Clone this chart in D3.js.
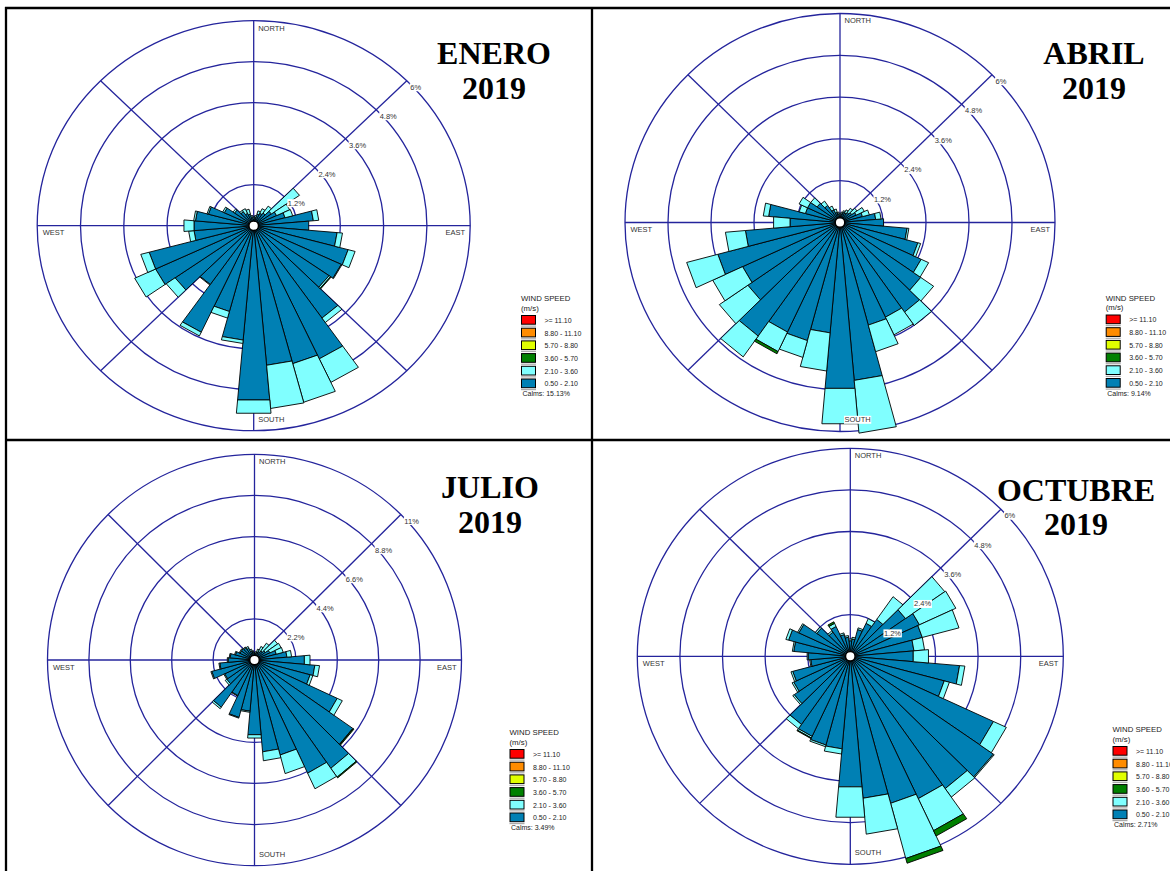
<!DOCTYPE html>
<html><head><meta charset="utf-8">
<script src="https://cdn.jsdelivr.net/npm/d3@7"></script>
<style>body{margin:0;background:#fff}svg{display:block}</style>
</head><body>
<svg id="c" width="1170" height="871"></svg>
<script>
// ---------------- DATA ----------------
const directions = [0,10,20,30,40,50,60,70,80,90,100,110,120,130,140,150,160,170,180,190,200,210,220,230,240,250,260,270,280,290,300,310,320,330,340,350];
const compassLabels = ["NORTH","EAST","SOUTH","WEST"];
const ticksA = [1.2,2.4,3.6,4.8,6];
const tickLabelsA = ["1.2%","2.4%","3.6%","4.8%","6%"];
const ticksB = [2.2,4.4,6.6,8.8,11];
const tickLabelsB = ["2.2%","4.4%","6.6%","8.8%","11%"];
const legendLabels = [">= 11.10","8.80 - 11.10","5.70 - 8.80","3.60 - 5.70","2.10 - 3.60","0.50 - 2.10"];
const monthTitles = ["ENERO","ABRIL","JULIO","OCTUBRE"];
const yearTitles = ["2019","2019","2019","2019"];
const calmsLabels = ["Calms: 15.13%","Calms: 9.14%","Calms: 3.49%","Calms: 2.71%"];

// ENERO 2019 (% frequency per 10° sector)
const eneroLow  = [0.2,0.25,0.35,0.4,0.45,0.6,0.7,0.9,1.66,1.53,2.32,2.71,2.68,2.55,3.3,4.3,4.18,4.1,5.12,3.36,2.6,3.44,2.1,2.66,3.0,3.0,1.66,1.66,1.62,1.3,0.9,0.65,0.5,0.4,0.35,0.25];
const eneroMid  = [0.05,0.05,0.1,0.15,0.25,0.95,0.4,0.22,0.15,0,0.15,0.2,0.02,0.05,0.16,0.76,1.17,1.27,0.39,0.1,0.2,0.12,0.02,0.3,0.64,0.24,0.15,0.28,0.05,0.04,0.05,0.05,0.05,0.15,0.15,0.05];
const eneroHigh = [0,0,0,0,0,0,0,0,0,0,0,0,0,0.02,0,0,0,0,0,0,0,0,0,0,0,0,0,0,0,0,0,0,0,0,0,0];
// ABRIL 2019
const abrilLow  = [0.2,0.25,0.3,0.3,0.35,0.4,0.5,0.65,1.0,1.22,1.88,2.25,2.5,2.75,3.14,3.0,3.05,4.55,4.78,3.18,3.51,3.47,3.98,3.14,3.0,3.53,2.65,1.4,2.0,1.0,1.0,0.78,0.6,0.4,0.3,0.25];
const abrilMid  = [0.05,0.05,0.05,0.1,0.15,0.18,0.25,0.2,0.15,0,0.05,0.08,0.23,0.44,0.47,0.56,0.79,1.52,1.02,1.1,0.5,0.62,0.73,0.97,0.92,0.9,0.56,0.46,0.15,0.18,0.26,0.22,0.15,0.12,0.1,0.05];
const abrilHigh = [0,0,0,0,0,0,0,0,0,0,0,0,0,0,0,0,0,0,0,0,0,0.07,0,0,0,0,0,0,0,0,0,0,0,0,0,0];
// JULIO 2019
const julioLow  = [0.35,0.35,0.45,0.5,0.6,0.7,0.9,1.2,1.73,2.66,3.22,3.06,4.85,6.38,7.07,6.68,5.26,4.93,4.01,2.75,3.18,2.1,3.08,1.8,1.75,2.35,1.85,1.4,1.3,1.05,0.85,0.85,0.8,0.7,0.5,0.45];
const julioMid  = [0.05,0.1,0.15,0.3,0.5,0.8,0.66,0.38,0.25,0.3,0.25,0.15,0.3,0.02,0.58,0.92,1.03,0.48,0.18,0.06,0.04,0.03,0.1,0.1,0.05,0.05,0.05,0.05,0.05,0.05,0.05,0.05,0.05,0.1,0.1,0.05];
const julioHigh = [0,0,0,0,0,0,0,0,0,0,0,0,0,0.05,0.05,0,0,0,0,0,0,0,0,0,0,0,0,0,0,0,0,0,0,0,0,0];
// OCTUBRE 2019
const octubreLow  = [0.45,0.5,0.8,1.05,1.3,1.9,2.15,2.1,1.8,1.78,3.09,2.74,4.45,4.92,4.66,4.53,4.39,4.11,3.78,2.68,2.65,2.55,2.4,1.93,1.76,1.68,1.12,1.19,1.6,1.8,1.6,1.15,0.85,0.95,0.65,0.55];
const octubreMid  = [0.05,0.05,0.05,0.15,0.8,1.35,1.13,1.07,0.3,0.43,0.15,0.15,0.4,0.03,0.3,1.02,1.65,1.04,0.88,0.15,0.05,0.05,0.15,0.05,0.05,0.05,0.03,0.03,0.04,0.08,0.04,0.05,0.05,0.1,0.05,0.05];
const octubreHigh = [0,0,0,0,0,0,0,0,0,0,0,0,0,0,0,0.17,0.14,0,0,0,0,0.02,0,0,0,0,0,0,0,0,0,0,0,0.05,0,0];

// ---------------- STYLE ----------------
const legendColors = ["#ff0000","#ff8c00","#e0ff00","#008000","#80ffff","#0080b4"];
const binColors = {low:"#0080b4", mid:"#80ffff", high:"#008000"};
const gridColor = "#24249c";
const sans = "'Liberation Sans', Arial, sans-serif";
const serif = "'Liberation Serif', 'Times New Roman', serif";

const svg = d3.select("#c");

const panels = [
  {low:eneroLow, mid:eneroMid, high:eneroHigh, ticks:ticksA, tickLabels:tickLabelsA, max:6,
   cx:253.7, cy:225.7, rx:216.5, ry:205, tx:494, ty:[64,99], lx:521, ly:301, i:0},
  {low:abrilLow, mid:abrilMid, high:abrilHigh, ticks:ticksA, tickLabels:tickLabelsA, max:6,
   cx:840, cy:222.5, rx:215, ry:209, tx:1094, ty:[64,99], lx:1105.7, ly:300.5, i:1},
  {low:julioLow, mid:julioMid, high:julioHigh, ticks:ticksB, tickLabels:tickLabelsB, max:11,
   cx:254.5, cy:660, rx:207, ry:205.7, tx:490, ty:[498,533], lx:509.5, ly:735, i:2},
  {low:octubreLow, mid:octubreMid, high:octubreHigh, ticks:ticksA, tickLabels:tickLabelsA, max:6,
   cx:850.3, cy:656.3, rx:213, ry:208, tx:1076, ty:[501,535], lx:1112.5, ly:732, i:3}
];

function labelWithBg(g, x, y, text, size, anchor) {
  const t = g.append("text").attr("x", x).attr("y", y)
    .attr("font-family", sans).attr("font-size", size).attr("fill", "#333")
    .attr("text-anchor", anchor || "start").text(text);
  const bb = t.node().getBBox();
  g.insert("rect", () => t.node()).attr("x", bb.x - 0.5).attr("y", bb.y + 0.5)
    .attr("width", bb.width + 1).attr("height", bb.height - 1).attr("fill", "#fff");
}

function drawRose(p) {
  const g = svg.append("g");
  const rX = d3.scaleLinear().domain([0, p.max]).range([0, p.rx]);
  const rY = d3.scaleLinear().domain([0, p.max]).range([0, p.ry]);
  const ang = d3.scaleLinear().domain([0, 360]).range([0, 2 * Math.PI]);
  const pt = (v, deg) => [p.cx + rX(v) * Math.sin(ang(deg)), p.cy - rY(v) * Math.cos(ang(deg))];

  // rings
  g.selectAll("ellipse.ring").data(p.ticks).join("ellipse")
    .attr("cx", p.cx).attr("cy", p.cy)
    .attr("rx", d => rX(d)).attr("ry", d => rY(d))
    .attr("fill", "none").attr("stroke", gridColor).attr("stroke-width", 1.3);
  // spokes
  g.selectAll("line.spoke").data([0, 45, 90, 135]).join("line")
    .attr("x1", d => pt(p.max, d)[0]).attr("y1", d => pt(p.max, d)[1])
    .attr("x2", d => pt(p.max, d + 180)[0]).attr("y2", d => pt(p.max, d + 180)[1])
    .attr("stroke", gridColor).attr("stroke-width", 1.3);

  // petals
  const rows = directions.map((d, i) => ({dir: d, low: p.low[i], mid: p.mid[i], high: p.high[i]}));
  const series = d3.stack().keys(["low", "mid", "high"])(rows);
  const segs = [];
  series.forEach(s => s.forEach(seg => {
    if (seg[1] - seg[0] > 0) segs.push({key: s.key, r0: seg[0], r1: seg[1], dir: seg.data.dir});
  }));
  g.selectAll("path.petal").data(segs).join("path")
    .attr("d", d => {
      const a0 = d.dir - 5, a1 = d.dir + 5;
      const pts = [pt(d.r0, a0), pt(d.r1, a0), pt(d.r1, a1), pt(d.r0, a1)];
      return "M" + pts.map(q => q.join(",")).join("L") + "Z";
    })
    .attr("fill", d => binColors[d.key])
    .attr("stroke", "#000").attr("stroke-width", 0.9).attr("stroke-linejoin", "miter");

  // ring labels
  p.ticks.forEach((t, i) => {
    const q = pt(t, 45);
    labelWithBg(g, q[0] + 3.5, q[1] + 9, p.tickLabels[i], 7.5);
  });
  // compass labels
  labelWithBg(g, p.cx + 4.5, p.cy - p.ry + 9.8, compassLabels[0], 7.5);
  labelWithBg(g, p.cx + p.rx - 5, p.cy + 9.5, compassLabels[1], 7.5, "end");
  labelWithBg(g, p.cx + 4.5, p.cy + p.ry - 9.2, compassLabels[2], 7.5);
  labelWithBg(g, p.cx - p.rx + 5.5, p.cy + 9.5, compassLabels[3], 7.5);

  // center
  g.append("circle").attr("cx", p.cx).attr("cy", p.cy).attr("r", 4.8)
    .attr("fill", "#fff").attr("stroke", "#000").attr("stroke-width", 1.5);

  // title
  g.append("text").attr("x", p.tx).attr("y", p.ty[0]).attr("text-anchor", "middle")
    .attr("font-family", serif).attr("font-weight", "bold").attr("font-size", 32).attr("fill", "#000")
    .text(monthTitles[p.i]);
  g.append("text").attr("x", p.tx).attr("y", p.ty[1]).attr("text-anchor", "middle")
    .attr("font-family", serif).attr("font-weight", "bold").attr("font-size", 32).attr("fill", "#000")
    .text(yearTitles[p.i]);

  // legend
  const lg = g.append("g").attr("transform", `translate(${p.lx},${p.ly})`);
  lg.append("text").attr("x", 0).attr("y", 0).attr("font-family", sans).attr("font-size", 7.8)
    .attr("fill", "#222").text("WIND SPEED");
  lg.append("text").attr("x", 0).attr("y", 9.5).attr("font-family", sans).attr("font-size", 7.8)
    .attr("fill", "#222").text("(m/s)");
  const band = d3.scaleBand().domain(legendLabels).range([14.5, 14.5 + 12.7 * 6]);
  legendLabels.forEach((lab, i) => {
    const y = band(lab);
    lg.append("line").attr("x1", 0).attr("x2", 15).attr("y1", y + 10.6).attr("y2", y + 10.6)
      .attr("stroke", "#aaa").attr("stroke-width", 1.2);
    lg.append("rect").attr("x", 0.5).attr("y", y).attr("width", 14).attr("height", 8.7)
      .attr("fill", legendColors[i]).attr("stroke", "#000").attr("stroke-width", 1);
    lg.append("text").attr("x", 23.5).attr("y", y + 7.3).attr("font-family", sans)
      .attr("font-size", 7).attr("fill", "#222").text(lab);
  });
  lg.append("text").attr("x", 1.5).attr("y", 95).attr("font-family", sans).attr("font-size", 7)
    .attr("fill", "#222").text(calmsLabels[p.i]);
}

panels.forEach(drawRose);

// panel borders
const borders = svg.append("g").attr("stroke", "#000").attr("stroke-width", 2.3);
borders.append("line").attr("x1", 5).attr("x2", 1170).attr("y1", 8).attr("y2", 8);
borders.append("line").attr("x1", 6).attr("x2", 6).attr("y1", 7).attr("y2", 871);
borders.append("line").attr("x1", 592).attr("x2", 592).attr("y1", 7).attr("y2", 871);
borders.append("line").attr("x1", 5).attr("x2", 1170).attr("y1", 440).attr("y2", 440);
</script>
</body></html>
